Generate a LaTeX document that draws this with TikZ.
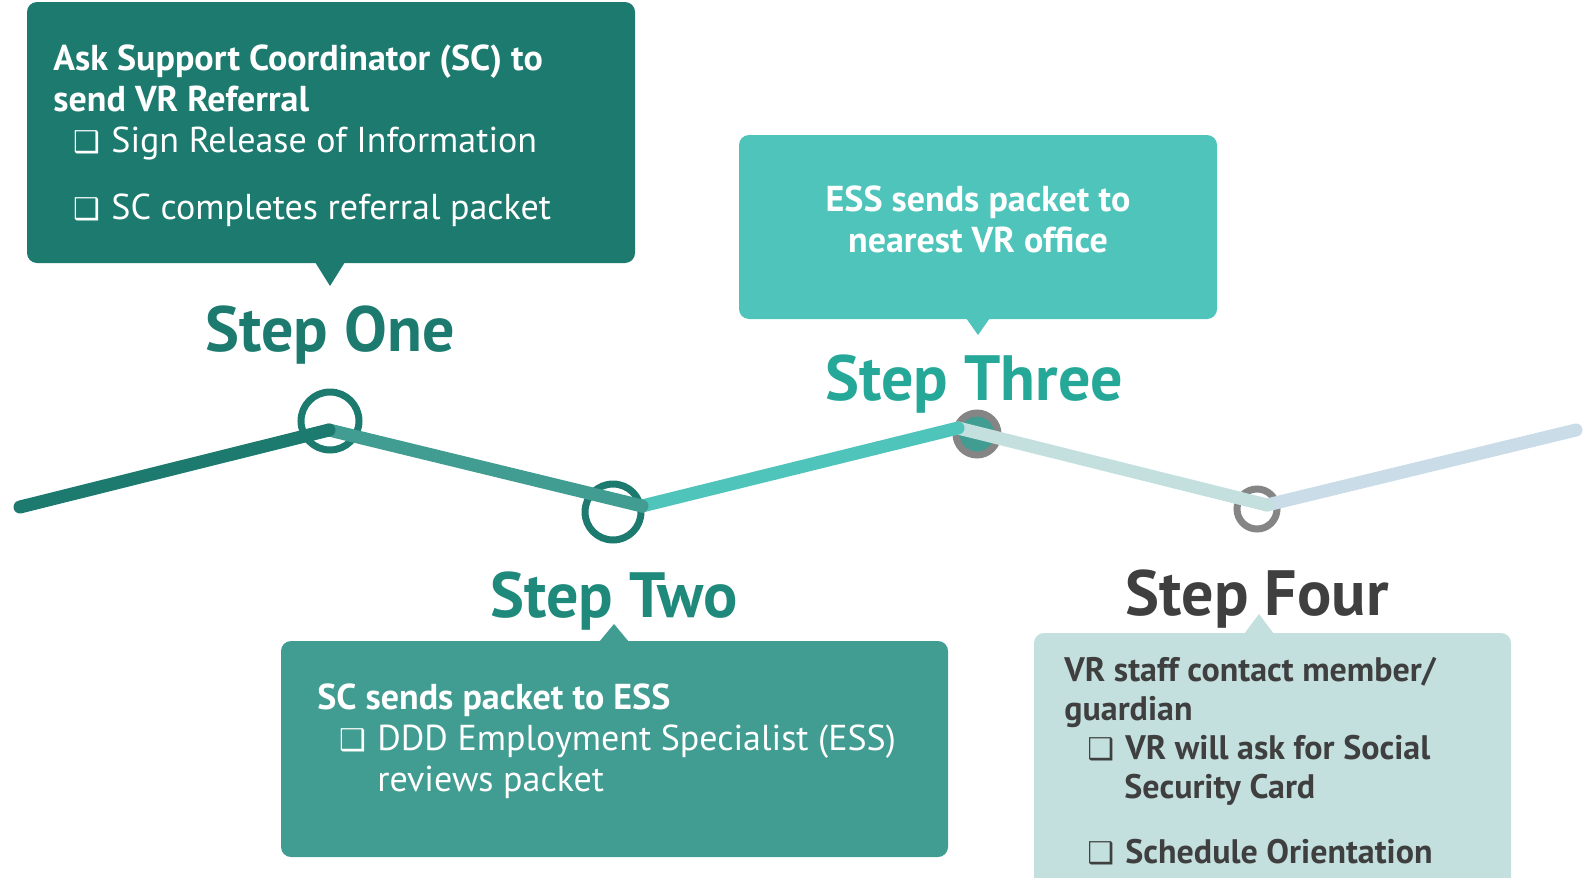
\documentclass[tikz,border=0pt]{standalone}
\usepackage{fontspec}
\setmainfont{PT Sans}
\newfontfamily\glyphfont{DejaVu Sans}
\usetikzlibrary{calc}

\definecolor{tealdark}{HTML}{1C7A6E}
\definecolor{tealmid}{HTML}{419C91}
\definecolor{teallight}{HTML}{4FC4BA}
\definecolor{tealpale}{HTML}{C3E0DE}
\definecolor{bluepale}{HTML}{C9DCE8}
\definecolor{ringgrey}{HTML}{858585}
\definecolor{titletwo}{HTML}{1F8A7B}
\definecolor{titlethree}{HTML}{26A899}
\definecolor{inkgrey}{HTML}{3F3F3F}

\newcommand{\chkbox}{\makebox[19pt][l]{\glyphfont\fontsize{15}{15}\selectfont\char"2751}}

\begin{document}
\begin{tikzpicture}[x=0.5pt, y=-0.5pt,
	track/.style={line width=6.5pt, line cap=round},
	ring/.style={line width=3.5pt},
	steptitle/.style={font=\fontsize{32}{38}\selectfont\bfseries, anchor=base, inner sep=0pt},
	boxtext/.style={font=\fontsize{18}{20.5}\selectfont, align=left, inner sep=0pt, anchor=north west}]

	\useasboundingbox (0,0) rectangle (1585,878);

	% callout boxes
	\fill[tealdark, rounded corners=5pt] (27,2) rectangle (635,263);
	\fill[teallight, rounded corners=5pt] (739,135) rectangle (1217,319);
	\fill[tealmid, rounded corners=5pt] (281,641) rectangle (948,857);
	\fill[tealpale, rounded corners=5pt] (1034,633) rectangle (1511,900);

	% pointers
	\coordinate (P1) at (330,286);
	\coordinate (P2) at (614,624);
	\coordinate (P3) at (978,335);
	\coordinate (P4) at (1259,614);
	\fill[tealdark] (P1) -- ++(-15,-24) -- ++(30,0) -- cycle;
	\fill[tealmid] (P2) -- ++(-15,18) -- ++(30,0) -- cycle;
	\fill[teallight] (P3) -- ++(-12,-17) -- ++(24,0) -- cycle;
	\fill[tealpale] (P4) -- ++(-15,20) -- ++(30,0) -- cycle;

	% step titles
	\node[steptitle, text=tealdark] (S1) at (330,351) {Step One};
	\node[steptitle, text=titletwo] (S2) at (614,617) {Step Two};
	\node[steptitle, text=titlethree] (S3) at (974,400) {Step Three};
	\node[steptitle, text=inkgrey] (S4) at (1257,615) {Step Four};

	% markers
	\coordinate (C1) at (330,421);
	\coordinate (C2) at (613,512);
	\coordinate (C3) at (977,434);
	\coordinate (C4) at (1257,509);
	\draw[ring, tealdark] (C1) circle (29);
	\draw[ring, tealdark] (C2) circle (28);
	\draw[ring, ringgrey, fill=tealmid] (C3) circle (21);
	\draw[ring, ringgrey] (C4) circle (20);

	% timeline
	\coordinate (V0) at (20,507);
	\coordinate (V1) at (329,430);
	\coordinate (V2) at (642,506);
	\coordinate (V3) at (958,428);
	\coordinate (V4) at (1267,505);
	\coordinate (V5) at (1576,430);
	\draw[track, bluepale] (V4) -- (V5);
	\draw[track, tealpale] (V3) -- (V4);
	\draw[track, teallight] (V2) -- (V3);
	\draw[track, tealmid] (V1) -- (V2);
	\draw[track, tealdark] (V0) -- (V1);

	% box texts
	\node[boxtext, text=white] (T1) at (53,44) {\textbf{Ask Support Coordinator (SC) to}\\
		\textbf{send VR Referral}\\
		\hspace*{10pt}\chkbox Sign Release of Information\\[13pt]
		\hspace*{10pt}\chkbox SC completes referral packet};
	\node[boxtext, text=white, align=center, anchor=north] (T3) at (978,185) {\textbf{ESS sends packet to}\\
		\textbf{nearest VR office}};
	\node[boxtext, text=white] (T2) at (317,683) {\textbf{SC sends packet to ESS}\\
		\hspace*{11pt}\chkbox DDD Employment Specialist (ESS)\\
		\hspace*{30pt}reviews packet};
	\node[boxtext, text=inkgrey, font=\fontsize{17}{19.5}\selectfont\bfseries] (T4) at (1064,657) {VR staff contact member/\\
		guardian\\
		\hspace*{11.5pt}\chkbox VR will ask for Social\\
		\hspace*{30pt}Security Card\\[13pt]
		\hspace*{11.5pt}\chkbox Schedule Orientation};

\end{tikzpicture}
\end{document}
